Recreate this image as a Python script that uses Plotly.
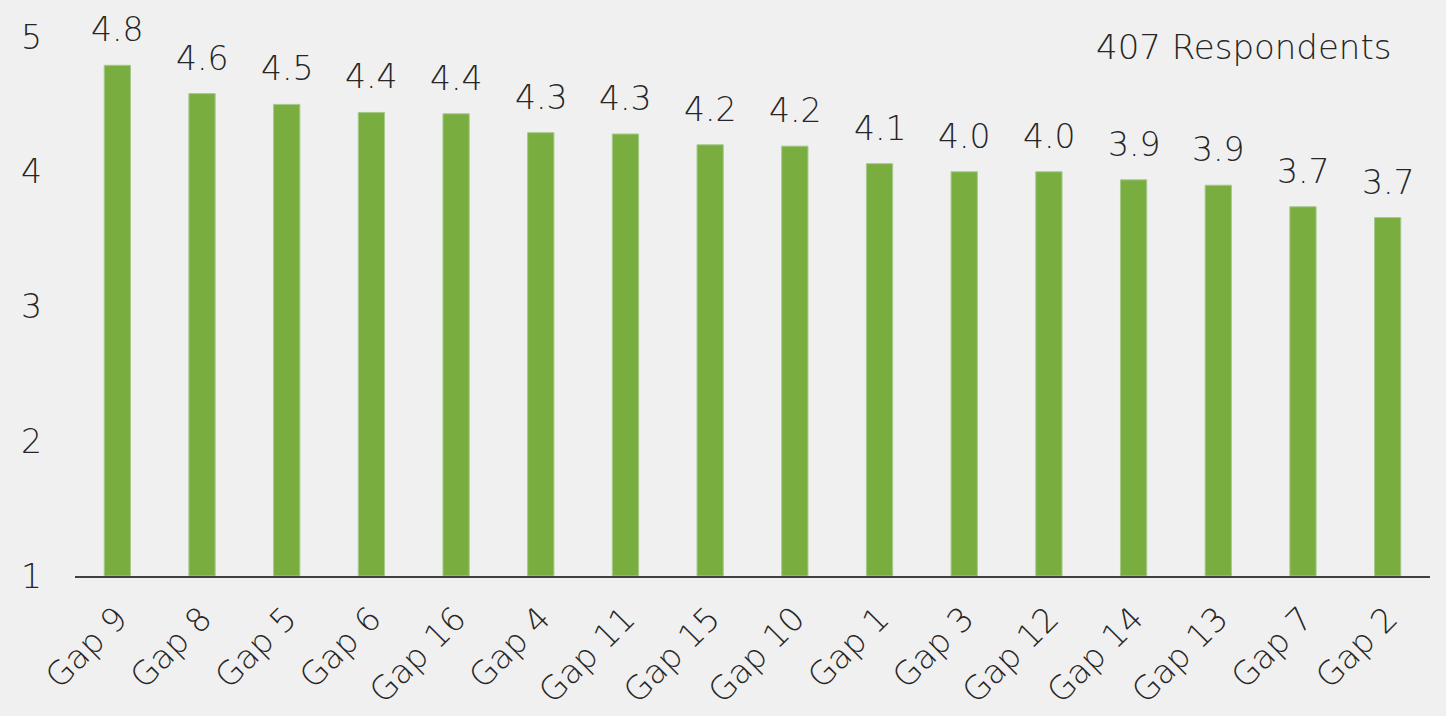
import plotly.graph_objects as go

categories = ["Gap 9", "Gap 8", "Gap 5", "Gap 6", "Gap 16", "Gap 4", "Gap 11", "Gap 15",
              "Gap 10", "Gap 1", "Gap 3", "Gap 12", "Gap 14", "Gap 13", "Gap 7", "Gap 2"]
values = [4.79, 4.58, 4.50, 4.44, 4.43, 4.29, 4.28, 4.20,
          4.19, 4.06, 4.00, 4.00, 3.94, 3.90, 3.74, 3.66]
y_ticks = [1, 2, 3, 4, 5]
note_text = "407 Respondents"

FONT = "DejaVu Sans"
TEXT_COLOR = "#262626"
fnt = dict(family=FONT, size=33, color=TEXT_COLOR, weight=200)
xfnt = dict(family=FONT, size=33, color=TEXT_COLOR, weight=200)
nfnt = dict(family=FONT, size=34, color=TEXT_COLOR, weight=200)

fig = go.Figure(go.Bar(
    x=categories,
    y=[v - 1 for v in values],
    base=1,
    marker=dict(color="#7AAD3F", line=dict(color="#A6C98A", width=1)),
    hoverinfo="skip",
))

annotations = [dict(
    x=c, y=v, xref="x", yref="y", text=f"{v:.1f}", showarrow=False,
    xanchor="center", yanchor="bottom", yshift=14, font=fnt,
) for c, v in zip(categories, values)]

annotations.append(dict(
    text=note_text, xref="paper", yref="paper", x=0.9727, y=0.981,
    xanchor="right", yanchor="middle", showarrow=False, font=nfnt,
))

fig.update_layout(
    width=1446, height=716,
    paper_bgcolor="#F0F0F0", plot_bgcolor="#F0F0F0",
    margin=dict(l=75, r=16, t=37, b=140, autoexpand=False),
    bargap=0.69,
    showlegend=False,
    font=dict(family=FONT, color=TEXT_COLOR),
    xaxis=dict(
        tickangle=-45, automargin=False,
        tickfont=xfnt,
        showline=True, linecolor="#404040", linewidth=2,
        ticks="", showgrid=False, ticklabelstandoff=8,
    ),
    yaxis=dict(
        range=[1, 5], automargin=False,
        tickvals=y_ticks,
        tickfont=fnt,
        showgrid=False, zeroline=False, showline=False,
        ticks="", ticklabelstandoff=32,
    ),
    annotations=annotations,
)

fig.write_html("out.html", config={"displayModeBar": False},
               post_script="document.body.style.margin='0';document.body.style.overflow='hidden';")
